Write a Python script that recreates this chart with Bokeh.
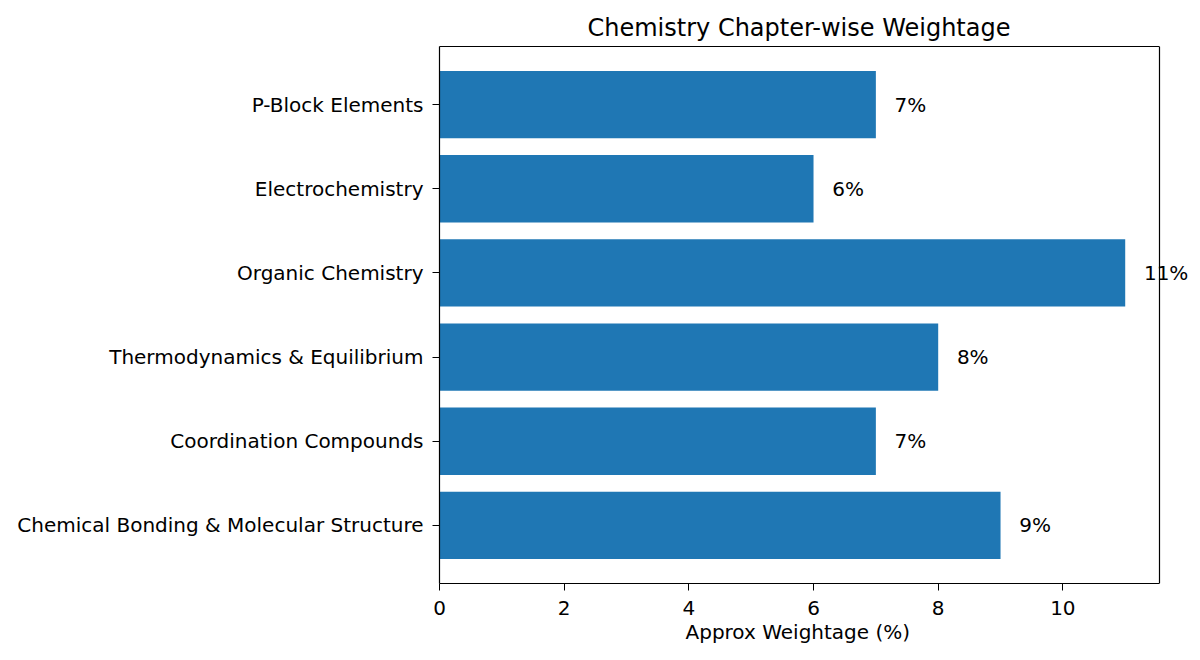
from bokeh.core.properties import value
from bokeh.embed import file_html
from bokeh.models import (
    ColumnDataSource,
    FactorRange,
    FixedTicker,
    LabelSet,
    LinearAxis,
    Range1d,
    Span,
    Title,
)
from bokeh.plotting import figure
from bokeh.resources import INLINE

# chapters listed bottom to top
chapters = [
    "Chemical Bonding & Molecular Structure",
    "Coordination Compounds",
    "Thermodynamics & Equilibrium",
    "Organic Chemistry",
    "Electrochemistry",
    "P-Block Elements",
]
weightage = [9, 7, 8, 11, 6, 7]
x_ticks = [0, 2, 4, 6, 8, 10]

FONT = "DejaVu Sans"
BAR = "#1f77b4"

# visible axes box ends at xmax; the frame is a bit wider so the "11%" label isn't clipped
xmax = max(weightage) * 1.05
box_px, frame_px = 720, 751
x_end = xmax * frame_px / box_px

src = ColumnDataSource(dict(
    chapter=chapters,
    w=weightage,
    lx=[v + 0.3 for v in weightage],
    txt=[f"{v}%" for v in weightage],
))

p = figure(
    width=1192,
    height=652,
    y_range=FactorRange(*chapters, range_padding=0.38 / 6, range_padding_units="percent"),
    x_range=Range1d(0, x_end),
    title="Chemistry Chapter-wise Weightage",
    output_backend="svg",
    toolbar_location=None,
    min_border_left=439,
    min_border_right=2,
    min_border_top=46,
    min_border_bottom=69,
)
xaxis = p.below[0]
yaxis = p.left[0]

p.hbar(y="chapter", right="w", left=0, height=0.8, source=src, color=BAR, line_color=None)

labels = LabelSet(x="lx", y="chapter", text="txt", source=src, text_align="left",
                  text_baseline="middle", text_font=value(FONT), text_font_size="20px",
                  text_color="black")
p.add_layout(labels)

p.title.align = "left"
p.title.offset = 148
p.title.text_font = FONT
p.title.text_font_size = "24px"
p.title.text_font_style = "normal"
p.title.text_color = "black"

p.xgrid.visible = False
p.ygrid.visible = False
p.outline_line_color = None

# box top and right edges
top_axis = LinearAxis(bounds=(0, xmax), ticker=FixedTicker(ticks=[]),
                      axis_line_color="black", axis_line_width=1.2,
                      major_tick_line_color=None, minor_tick_line_color=None,
                      major_label_text_font_size="0px")
p.add_layout(top_axis, "above")
p.add_layout(Span(location=xmax, dimension="height", line_color="black", line_width=1.2))

xaxis.bounds = (0, xmax)
xaxis.ticker = x_ticks
for ax in (xaxis, yaxis):
    ax.axis_line_color = "black"
    ax.axis_line_width = 1.2
    ax.major_tick_line_color = "black"
    ax.major_tick_out = 7
    ax.major_tick_in = 0
    ax.minor_tick_line_color = None
    ax.major_label_text_font = FONT
    ax.major_label_text_font_size = "20px"
    ax.major_label_text_color = "black"
xaxis.major_label_standoff = 10
yaxis.major_label_standoff = 9

# x label as a below-title so it centres on the box, not the wider frame
xlabel = Title(text="Approx Weightage (%)", align="left", offset=246,
               text_font=FONT, text_font_size="20px", text_font_style="normal",
               text_color="black", standoff=0)
p.add_layout(xlabel, "below")

open("out.html", "w").write(file_html(p, INLINE))
